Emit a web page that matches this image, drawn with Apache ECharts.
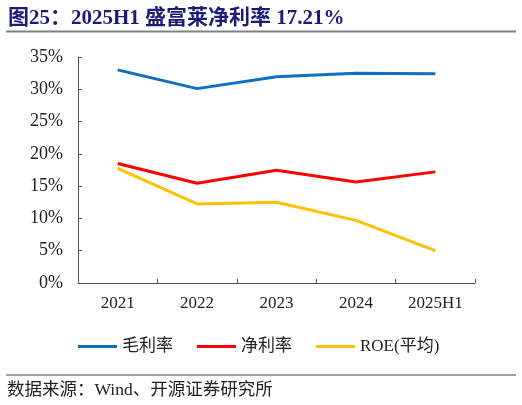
<!DOCTYPE html>
<html>
<head>
<meta charset="utf-8">
<script src="https://cdn.jsdelivr.net/npm/echarts@6/dist/echarts.min.js"></script>
<style>
  html,body{margin:0;padding:0;background:#fff;}
  #main{width:522px;height:405px;}
</style>
</head>
<body>
<div id="main"></div>
<script>
// 数据
const years = ['2021', '2022', '2023', '2024', '2025H1']
const grossMargin = [33.0, 30.1, 31.95, 32.5, 32.4]
const netMargin = [18.5, 15.45, 17.45, 15.65, 17.21]
const roeAvg = [17.75, 12.25, 12.5, 9.7, 5.0]
const yTicks = [0, 5, 10, 15, 20, 25, 30, 35]

const serif = '"Liberation Serif","Times New Roman","Noto Sans CJK SC",serif'

let chart = echarts.init(document.getElementById('main'), null, {renderer: 'canvas'})

function lineSeries(name, data, color){
  return {
    name: name,
    type: 'line',
    data: data,
    symbol: 'none',
    lineStyle: {width: 3, color: color},
    itemStyle: {color: color}
  }
}

let option = {
  animation: false,
  title: {
    text: '图25：2025H1 盛富莱净利率 17.21%',
    left: 3,
    top: 3,
    textStyle: {
      fontFamily: serif,
      fontSize: 21,
      fontWeight: 'bold',
      color: '#1c1c78'
    }
  },
  graphic: [
    //标题下方分割线
    {type: 'line', shape: {x1: 6, y1: 31.5, x2: 516, y2: 31.5}, style: {stroke: '#808080', lineWidth: 2}},
    //底部来源分割线
    {type: 'line', shape: {x1: 6, y1: 375, x2: 516, y2: 375}, style: {stroke: '#808080', lineWidth: 1.5}},
    {
      type: 'text', left: 7, top: 382,
      style: {text: '数据来源：Wind、开源证券研究所', font: '17.5px ' + serif, fill: '#222'}
    }
  ],
  legend: {
    left: 73,
    top: 333,
    itemWidth: 39,
    itemHeight: 3,
    itemGap: 24,
    icon: 'rect',
    textStyle: {fontFamily: serif, fontSize: 17, color: '#222'},
    data: ['毛利率', '净利率', 'ROE(平均)']
  },
  grid: {left: 78, right: 47, top: 57, bottom: 122, containLabel: false},
  xAxis: {
    type: 'category',
    data: years,
    boundaryGap: true,
    axisLine: {lineStyle: {color: '#555', width: 1}},
    axisTick: {show: true, inside: true, length: 4, lineStyle: {color: '#555'}},
    axisLabel: {fontFamily: serif, fontSize: 17, color: '#222', margin: 12}
  },
  yAxis: {
    type: 'value',
    min: yTicks[0],
    max: yTicks[yTicks.length - 1],
    interval: 5,
    splitLine: {show: false},
    axisLine: {show: true, lineStyle: {color: '#555', width: 1}},
    axisTick: {show: true, inside: true, length: 4, lineStyle: {color: '#555'}},
    axisLabel: {fontFamily: serif, fontSize: 18, color: '#222', margin: 15, formatter: '{value}%'}
  },
  series: [
    lineSeries('毛利率', grossMargin, '#0f6fc0'),
    lineSeries('净利率', netMargin, '#ff0000'),
    lineSeries('ROE(平均)', roeAvg, '#ffc000')
  ]
}

chart.setOption(option)
</script>
</body>
</html>
